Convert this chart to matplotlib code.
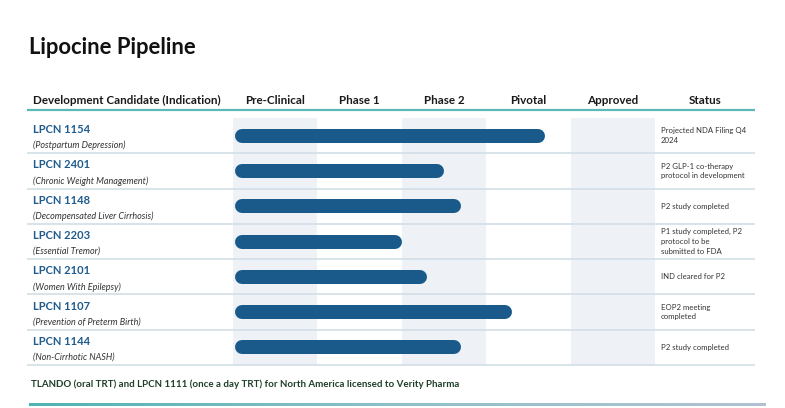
import matplotlib
matplotlib.use("Agg")
import matplotlib.pyplot as plt
import numpy as np
from matplotlib.colors import LinearSegmentedColormap

# ---- data ----
stages = ["Pre-Clinical", "Phase 1", "Phase 2", "Pivotal", "Approved"]
candidates = ["LPCN 1154", "LPCN 2401", "LPCN 1148", "LPCN 2203",
              "LPCN 2101", "LPCN 1107", "LPCN 1144"]
indications = ["(Postpartum Depression)", "(Chronic Weight Management)",
               "(Decompensated Liver Cirrhosis)", "(Essential Tremor)",
               "(Women With Epilepsy)", "(Prevention of Preterm Birth)",
               "(Non-Cirrhotic NASH)"]
progress = [3.7, 2.5, 2.7, 2.0, 2.3, 3.3, 2.7]   # in stage units (0 = start of Pre-Clinical)
status = ["Projected NDA Filing Q4\n2024",
          "P2 GLP-1 co-therapy\nprotocol in development",
          "P2 study completed",
          "P1 study completed, P2\nprotocol to be\nsubmitted to FDA",
          "IND cleared for P2",
          "EOP2 meeting\ncompleted",
          "P2 study completed"]
title = "Lipocine Pipeline"
col_header = "Development Candidate (Indication)"
status_header = "Status"
footer = "TLANDO (oral TRT) and LPCN 1111 (once a day TRT) for North America licensed to Verity Pharma"

# ---- layout ----
W, H = 785, 408
FONT = ["Lato", "DejaVu Sans"]
plt.rcParams["font.family"] = FONT

fig = plt.figure(figsize=(W / 100, H / 100), dpi=100)
fig.patch.set_facecolor("white")

top, bottom = 118, 365
left_b, right_b = 233, 655
n = len(candidates)
row_h = (bottom - top) / n

# bar axes (stage coordinates)
axB = fig.add_axes([left_b / W, 1 - bottom / H, (right_b - left_b) / W, (bottom - top) / H])
axB.set_zorder(0)
axB.set_xlim(0, len(stages))
axB.set_ylim(n, 0)
axB.axis("off")
for k in range(0, len(stages), 2):
    axB.axvspan(k, k + 1, color="#eef2f6", lw=0, zorder=0)

px_per_unit = (right_b - left_b) / len(stages)
bar_px = 14
cap = (bar_px / 2) / px_per_unit
start = 2 / px_per_unit
bar_color = "#1a5a8a"
for i, p in enumerate(progress):
    axB.plot([start + cap, p - cap], [i + 0.5, i + 0.5], color=bar_color,
             lw=bar_px * 72 / 100, solid_capstyle="round", zorder=3)

# overlay axes in pixel coordinates
ax = fig.add_axes([0, 0, 1, 1])
ax.set_zorder(1)
ax.patch.set_alpha(0)
ax.set_xlim(0, W)
ax.set_ylim(H, 0)
ax.axis("off")

ax.text(29, 47, title, fontsize=15.8, fontweight="bold", color="#111111",
        va="center", ha="left")

hdr_y = 100
ax.text(33, hdr_y, col_header, fontsize=8.4, fontweight="bold", color="#1a1a1a",
        va="center", ha="left")
for k, s in enumerate(stages):
    ax.text(left_b + (k + 0.5) * px_per_unit, hdr_y, s, fontsize=8.4, fontweight="bold",
            color="#1a1a1a", va="center", ha="center")
ax.text(705, hdr_y, status_header, fontsize=8.4, fontweight="bold", color="#1a1a1a",
        va="center", ha="center")
ax.plot([27, 755], [110, 110], color="#5bb8b5", lw=1.6, solid_capstyle="butt")

for i in range(n):
    yc = top + (i + 0.5) * row_h
    ax.text(33, yc - 6, candidates[i], fontsize=8, fontweight="bold", color="#1f5b8c",
            va="center", ha="left")
    ax.text(33, yc + 10, indications[i], fontsize=6.5, style="italic", color="#333333",
            va="center", ha="left")
    ax.text(661, yc, status[i], fontsize=5.6, color="#333333", va="center", ha="left",
            linespacing=1.45)
    yb = top + (i + 1) * row_h
    ax.plot([27, 755], [yb, yb], color="#d6e0e8", lw=1.3, solid_capstyle="butt")

ax.text(31, 384, footer, fontsize=7.0, fontweight="bold", color="#1f3f2a",
        va="center", ha="left")

# bottom gradient strip
cmap = LinearSegmentedColormap.from_list("strip", ["#4fb3b4", "#8fc0c8", "#b3c2d3"])
grad = np.linspace(0, 1, 256).reshape(1, -1)
ax.imshow(grad, cmap=cmap, extent=[29, 766, 406, 403], aspect="auto", zorder=2)
ax.set_xlim(0, W)
ax.set_ylim(H, 0)

fig.savefig("out.png", dpi=100, facecolor="white")
